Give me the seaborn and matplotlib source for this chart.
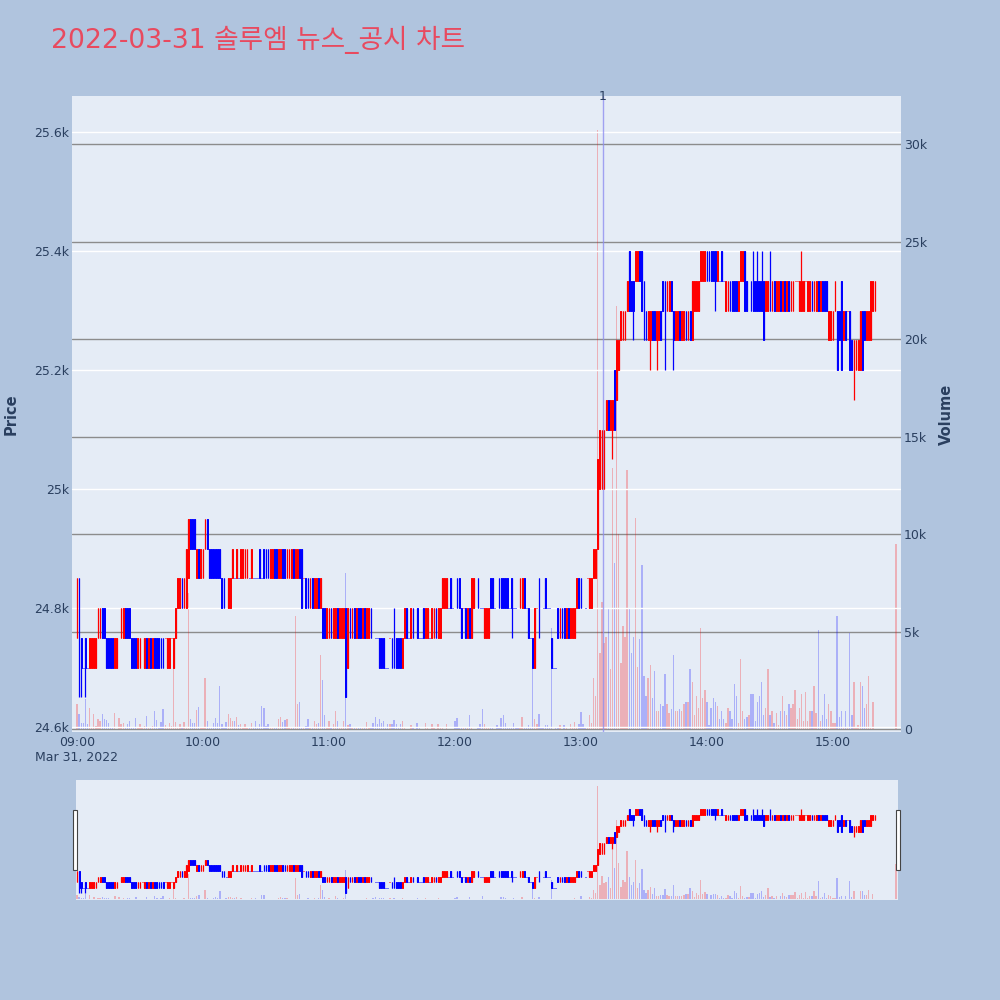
import numpy as np
import pandas as pd
import matplotlib
matplotlib.use("Agg")
import matplotlib.pyplot as plt
import matplotlib.transforms as mtransforms
from matplotlib.patches import Rectangle
import seaborn as sns

# ---------------- data ----------------
TITLE = "2022-03-31 솔루엠 뉴스_공시 차트"
price_ticks = [24600, 24800, 25000, 25200, 25400, 25600]
price_tick_labels = ["24.6k", "24.8k", "25k", "25.2k", "25.4k", "25.6k"]
volume_ticks = [0, 5000, 10000, 15000, 20000, 25000, 30000]
volume_tick_labels = ["0", "5k", "10k", "15k", "20k", "25k", "30k"]
time_ticks = [0, 60, 120, 180, 240, 300, 360]
time_tick_labels = ["09:00\nMar 31, 2022", "10:00", "11:00", "12:00", "13:00", "14:00", "15:00"]
news_minute = 250.5
news_label = "1"

# minutes after 09:00 (regular session 09:00-15:20, closing auction 15:30)
minutes = list(range(381)) + [390]

open_ = [
    24750, 24850, 24750, 24700, 24750, 24700, 24700, 24700, 24700, 24700,
    24750, 24750, 24800, 24800, 24750, 24750, 24750, 24750, 24700, 24700,
    24750, 24750, 24750, 24800, 24800, 24800, 24750, 24750, 24750, 24700,
    24700, 24750, 24700, 24750, 24700, 24750, 24700, 24750, 24750, 24750,
    24750, 24750, 24750, 24700, 24700, 24750, 24700, 24750, 24800, 24800,
    24850, 24800, 24800, 24850, 24950, 24950, 24950, 24850, 24900, 24850,
    24850, 24900, 24950, 24900, 24900, 24900, 24900, 24900, 24900, 24850,
    24850, 24800, 24800, 24800, 24850, 24850, 24850, 24850, 24850, 24850,
    24850, 24850, 24850, 24850, 24850, 24850, 24850, 24900, 24850, 24900,
    24900, 24900, 24850, 24850, 24900, 24900, 24850, 24850, 24900, 24900,
    24850, 24850, 24850, 24900, 24850, 24850, 24900, 24900, 24850, 24850,
    24850, 24800, 24850, 24800, 24800, 24850, 24800, 24800, 24800, 24750,
    24750, 24800, 24750, 24750, 24800, 24750, 24750, 24750, 24800, 24700,
    24800, 24750, 24800, 24750, 24800, 24800, 24750, 24800, 24750, 24750,
    24800, 24750, 24750, 24750, 24750, 24750, 24750, 24700, 24700, 24750,
    24750, 24750, 24750, 24750, 24750, 24700, 24750, 24800, 24750, 24750,
    24800, 24800, 24800, 24750, 24750, 24800, 24750, 24750, 24750, 24750,
    24750, 24800, 24750, 24750, 24800, 24800, 24800, 24800, 24850, 24800,
    24800, 24850, 24850, 24800, 24800, 24800, 24750, 24800, 24750, 24800,
    24800, 24850, 24800, 24800, 24750, 24750, 24750, 24850, 24850, 24800,
    24800, 24850, 24850, 24850, 24850, 24850, 24800, 24850, 24800, 24800,
    24800, 24800, 24800, 24850, 24800, 24800, 24750, 24750, 24700, 24800,
    24850, 24800, 24800, 24850, 24800, 24800, 24750, 24700, 24700, 24800,
    24750, 24800, 24800, 24750, 24800, 24750, 24750, 24750, 24800, 24850,
    24850, 24800, 24800, 24850, 24800, 24800, 24850, 24850, 24900, 25000,
    25000, 25000, 25100, 25150, 25100, 25100, 25200, 25150, 25200, 25250,
    25250, 25250, 25300, 25400, 25350, 25350, 25350, 25350, 25400, 25400,
    25350, 25300, 25250, 25250, 25300, 25300, 25250, 25250, 25300, 25350,
    25350, 25300, 25300, 25350, 25300, 25250, 25250, 25300, 25250, 25250,
    25300, 25250, 25300, 25250, 25300, 25300, 25300, 25350, 25350, 25350,
    25400, 25400, 25400, 25400, 25400, 25350, 25350, 25400, 25350, 25300,
    25300, 25350, 25350, 25350, 25350, 25300, 25350, 25350, 25400, 25350,
    25350, 25350, 25350, 25350, 25350, 25350, 25350, 25350, 25300, 25300,
    25350, 25300, 25350, 25300, 25300, 25350, 25300, 25350, 25300, 25350,
    25300, 25300, 25350, 25350, 25300, 25300, 25300, 25350, 25300, 25300,
    25350, 25300, 25300, 25350, 25300, 25350, 25350, 25350, 25250, 25250,
    25250, 25300, 25300, 25300, 25350, 25250, 25300, 25300, 25300, 25250,
    25200, 25200, 25200, 25200, 25300, 25300, 25250, 25250, 25250, 25300,
    25300, 25350,
]

close_ = [
    24850, 24700, 24700, 24700, 24700, 24700, 24750, 24750, 24750, 24750,
    24800, 24800, 24750, 24750, 24700, 24700, 24700, 24700, 24750, 24750,
    24750, 24800, 24800, 24750, 24750, 24750, 24700, 24700, 24700, 24750,
    24750, 24750, 24750, 24700, 24750, 24700, 24750, 24700, 24700, 24700,
    24700, 24700, 24750, 24750, 24750, 24750, 24750, 24800, 24850, 24850,
    24800, 24850, 24900, 24950, 24900, 24900, 24900, 24900, 24850, 24900,
    24900, 24950, 24900, 24850, 24850, 24850, 24850, 24850, 24850, 24800,
    24800, 24800, 24850, 24850, 24900, 24850, 24900, 24850, 24900, 24900,
    24900, 24900, 24850, 24900, 24850, 24850, 24850, 24850, 24850, 24850,
    24850, 24850, 24900, 24900, 24850, 24850, 24900, 24900, 24850, 24850,
    24900, 24900, 24900, 24850, 24900, 24900, 24850, 24800, 24850, 24800,
    24800, 24850, 24800, 24850, 24850, 24800, 24850, 24750, 24750, 24800,
    24800, 24750, 24800, 24800, 24750, 24800, 24800, 24800, 24650, 24800,
    24750, 24800, 24750, 24800, 24750, 24750, 24800, 24750, 24800, 24800,
    24750, 24750, 24750, 24750, 24700, 24700, 24700, 24700, 24700, 24750,
    24700, 24700, 24700, 24700, 24700, 24750, 24800, 24750, 24750, 24800,
    24750, 24800, 24750, 24750, 24750, 24750, 24800, 24800, 24750, 24800,
    24800, 24750, 24800, 24800, 24850, 24850, 24850, 24800, 24800, 24800,
    24800, 24800, 24800, 24750, 24800, 24750, 24800, 24750, 24850, 24850,
    24800, 24800, 24800, 24800, 24800, 24800, 24800, 24800, 24800, 24800,
    24800, 24800, 24800, 24800, 24800, 24800, 24800, 24800, 24800, 24800,
    24800, 24850, 24850, 24800, 24800, 24750, 24750, 24700, 24800, 24800,
    24800, 24800, 24800, 24800, 24800, 24800, 24700, 24700, 24700, 24750,
    24800, 24750, 24750, 24800, 24750, 24800, 24800, 24800, 24850, 24800,
    24800, 24800, 24800, 24850, 24850, 24850, 24900, 24900, 25050, 25100,
    25100, 25100, 25150, 25100, 25150, 25150, 25100, 25250, 25250, 25300,
    25300, 25300, 25350, 25300, 25300, 25300, 25400, 25400, 25350, 25300,
    25250, 25250, 25300, 25300, 25250, 25250, 25300, 25300, 25250, 25300,
    25250, 25350, 25350, 25300, 25250, 25300, 25300, 25250, 25300, 25300,
    25250, 25300, 25250, 25350, 25350, 25350, 25350, 25400, 25400, 25400,
    25350, 25350, 25350, 25350, 25350, 25400, 25350, 25350, 25350, 25350,
    25350, 25300, 25300, 25300, 25300, 25350, 25400, 25400, 25300, 25300,
    25350, 25300, 25300, 25300, 25300, 25300, 25300, 25250, 25350, 25350,
    25300, 25350, 25300, 25350, 25350, 25300, 25350, 25300, 25350, 25300,
    25350, 25350, 25350, 25350, 25350, 25350, 25350, 25350, 25350, 25350,
    25300, 25350, 25350, 25300, 25350, 25300, 25300, 25300, 25300, 25300,
    25300, 25350, 25200, 25250, 25200, 25300, 25250, 25300, 25200, 25200,
    25250, 25250, 25250, 25300, 25200, 25250, 25300, 25300, 25350, 25350,
    25350, 25350,
]

# wick extremes that go beyond the candle body (minute -> price)
wick_high = {151: 24800, 322: 25400, 324: 25400, 326: 25400, 330: 25400, 345: 25400}
wick_low = {1: 24650, 2: 24650, 4: 24650, 207: 24750, 220: 24750, 255: 25050,
            265: 25250, 273: 25200, 276: 25200, 280: 25200, 284: 25200,
            304: 25300, 370: 25150}

# traded volume per minute, thousands of shares
volume_k = [
    1.3, 0.75, 0.32, 0.32, 1.55, 0.24, 1.1, 0.03, 0.75, 0.15,
    0.5, 0.41, 0.75, 0.5, 0.45, 0.32, 0.05, 0.05, 0.8, 0.0,
    0.55, 0.24, 0.32, 0.1, 0.28, 0.41, 0.05, 0.05, 0.55, 0.05,
    0.24, 0.1, 0.15, 0.65, 0.05, 0.05, 0.15, 0.9, 0.45, 0.1,
    0.35, 1.0, 0.2, 0.05, 0.3, 0.15, 3.7, 0.35, 0.1, 0.24,
    0.05, 0.38, 0.05, 7.0, 0.5, 0.3, 0.32, 0.95, 1.15, 0.05,
    0.05, 2.6, 0.4, 0.05, 0.03, 0.32, 0.55, 0.3, 2.2, 0.24,
    0.05, 0.35, 0.75, 0.55, 0.41, 0.41, 0.62, 0.2, 0.28, 0.05,
    0.24, 0.05, 0.05, 0.3, 0.05, 0.41, 0.03, 0.24, 1.2, 1.1,
    0.15, 0.24, 0.1, 0.05, 0.05, 0.05, 0.5, 0.6, 0.38, 0.45,
    0.5, 0.05, 0.05, 0.05, 5.8, 1.3, 1.4, 0.05, 0.05, 0.15,
    0.5, 0.05, 0.05, 0.41, 0.24, 0.32, 3.8, 2.5, 0.7, 0.05,
    0.41, 0.03, 0.24, 0.92, 0.41, 0.05, 0.05, 0.41, 8.0, 0.2,
    0.24, 0.05, 0.05, 0.05, 0.05, 0.05, 0.05, 0.05, 0.38, 0.05,
    0.05, 0.3, 0.6, 0.24, 0.5, 0.3, 0.41, 0.05, 0.24, 0.28,
    0.24, 0.45, 0.24, 0.03, 0.24, 0.41, 0.05, 0.0, 0.0, 0.2,
    0.05, 0.0, 0.3, 0.05, 0.0, 0.0, 0.3, 0.05, 0.0, 0.24,
    0.05, 0.0, 0.28, 0.05, 0.05, 0.0, 0.24, 0.0, 0.0, 0.0,
    0.41, 0.58, 0.05, 0.05, 0.05, 0.05, 0.05, 0.7, 0.05, 0.0,
    0.0, 0.03, 0.24, 1.0, 0.24, 0.05, 0.05, 0.05, 0.05, 0.0,
    0.2, 0.05, 0.58, 0.7, 0.32, 0.05, 0.05, 0.05, 0.32, 0.05,
    0.05, 0.05, 0.6, 0.05, 0.05, 0.2, 0.1, 3.5, 0.5, 0.24,
    0.75, 0.05, 0.05, 0.2, 0.2, 0.05, 5.2, 0.0, 0.05, 0.05,
    0.2, 0.0, 0.2, 0.05, 0.0, 0.24, 0.05, 0.35, 0.05, 0.24,
    0.85, 0.24, 0.05, 0.05, 0.7, 0.3, 2.6, 1.7, 30.7, 3.9,
    6.5, 4.4, 4.7, 6.2, 3.1, 13.4, 8.5, 21.7, 10.0, 3.4,
    5.3, 4.7, 13.3, 6.2, 3.9, 4.7, 10.8, 3.2, 4.6, 8.4,
    2.7, 1.7, 2.6, 3.3, 1.6, 3.0, 0.9, 0.9, 1.3, 1.2,
    2.8, 1.3, 0.8, 1.0, 3.8, 0.9, 0.9, 1.0, 0.9, 1.3,
    1.4, 1.4, 3.1, 2.4, 0.7, 1.7, 1.1, 5.2, 1.6, 2.0,
    1.4, 0.2, 1.1, 1.6, 1.4, 1.2, 0.5, 0.9, 0.5, 0.3,
    1.1, 0.9, 0.5, 2.3, 1.7, 0.3, 3.6, 0.9, 0.5, 0.6,
    0.7, 1.8, 1.8, 0.4, 1.4, 1.7, 2.4, 0.7, 1.1, 3.1,
    0.7, 0.9, 0.3, 0.8, 0.2, 0.9, 1.7, 0.9, 0.7, 1.3,
    1.1, 1.3, 2.0, 0.5, 1.1, 1.8, 0.4, 1.9, 0.4, 0.9,
    0.9, 2.2, 0.8, 5.1, 0.4, 0.7, 1.8, 0.5, 1.3, 0.9,
    0.3, 0.3, 5.8, 0.6, 0.9, 0.1, 0.9, 0.1, 4.9, 0.7,
    2.4, 0.1, 0.2, 2.4, 2.2, 1.1, 1.3, 2.7, 0.1, 1.4,
    0.0, 9.5,
]

# ---------------- table ----------------
df = pd.DataFrame({"minute": minutes, "open": open_, "close": close_,
                   "volume": np.array(volume_k) * 1000})
df["high"] = [max(o, c, wick_high.get(m, 0)) for m, o, c in zip(df.minute, df.open, df.close)]
df["low"] = [min(o, c, wick_low.get(m, 10**9)) for m, o, c in zip(df.minute, df.open, df.close)]

# candle direction (a doji takes its direction from the previous close, as plotly does)
direction = []
prev_close, prev_up = None, True
for o, c in zip(df.open, df.close):
    if c > o:
        up = True
    elif c < o:
        up = False
    elif prev_close is None or c == prev_close:
        up = prev_up
    else:
        up = c > prev_close
    direction.append(up)
    prev_close, prev_up = c, up
df["up"] = direction

RED = "#FF0000"
BLUE = "#0000FF"
PAPER = "#B0C4DE"
PLOT_BG = "#E5ECF6"
FONT_C = "#2a3f5f"

sns.set_theme(style="white", rc={"figure.facecolor": PAPER, "axes.facecolor": PLOT_BG})
plt.rcParams["font.family"] = ["DejaVu Sans", "Noto Sans CJK KR"]

fig = plt.figure(figsize=(10, 10), dpi=100)
fig.patch.set_facecolor(PAPER)

XLIM = (-2.38, 392.4)
PRICE_LIM = (24591.6, 25660.6)
VOL_LIM = (-154, 32465)


def draw_layer(ax_p, ax_v, body_w, body_lw, wick_lw, vol_w):
    colors = np.where(df.up, RED, BLUE)
    ax_v.bar(df.minute, df.volume, width=vol_w, color=colors, alpha=0.25, linewidth=0, zorder=2)
    ax_p.vlines(df.minute, df.low, df.high, colors=colors, linewidth=wick_lw, zorder=3)
    lo = np.minimum(df.open, df.close)
    hi = np.maximum(df.open, df.close)
    ax_p.bar(df.minute, hi - lo, bottom=lo, width=body_w, color=colors,
             edgecolor=colors, linewidth=body_lw, zorder=4)


# ---------------- main chart ----------------
ax = fig.add_axes([0.072, 0.268, 0.829, 0.636])
ax_vol = ax.twinx()
ax.set_zorder(ax_vol.get_zorder() + 1)
ax.patch.set_visible(False)
ax_vol.patch.set_visible(True)
ax_vol.patch.set_facecolor(PLOT_BG)

draw_layer(ax, ax_vol, body_w=0.38, body_lw=0.72, wick_lw=0.9, vol_w=0.65)

ax.set_xlim(*XLIM)
ax.set_ylim(*PRICE_LIM)
ax_vol.set_ylim(*VOL_LIM)

ax.set_yticks(price_ticks)
ax.set_yticklabels(price_tick_labels)
ax_vol.set_yticks(volume_ticks)
ax_vol.set_yticklabels(volume_tick_labels)
ax.set_xticks(time_ticks)
ax.set_xticklabels(time_tick_labels)

ax.grid(axis="y", color="white", linewidth=1.0, zorder=1)
ax.grid(axis="x", visible=False)
ax_vol.grid(axis="y", color="#8c8c8c", linewidth=1.0)
ax_vol.grid(axis="x", visible=False)
ax.set_axisbelow(True)
ax_vol.set_axisbelow(True)

for a in (ax, ax_vol):
    for s in a.spines.values():
        s.set_visible(False)
ax.tick_params(axis="y", length=0, pad=2, labelsize=9, colors=FONT_C)
ax_vol.tick_params(axis="y", length=0, pad=2, labelsize=9, colors=FONT_C)
ax.tick_params(axis="x", length=0, pad=3, labelsize=9, colors=FONT_C)
ax_vol.tick_params(axis="x", length=0)

# news marker
ax.axvline(news_minute, color="#8f8ff0", linewidth=1.0, alpha=0.8, zorder=2)
trans = mtransforms.blended_transform_factory(ax.transData, ax.transAxes)
ax.text(news_minute, 1.0, news_label, transform=trans, ha="center", va="center",
        fontsize=9, color=FONT_C, zorder=6)

fig.text(0.011, 0.586, "Price", rotation=90, ha="center", va="center",
         fontsize=10.5, fontweight="bold", color=FONT_C)
fig.text(0.946, 0.586, "Volume", rotation=90, ha="center", va="center",
         fontsize=10.5, fontweight="bold", color=FONT_C)

fig.text(0.051, 0.960, TITLE, ha="left", va="center", fontsize=19.2, color="#E84A5F")

# ---------------- range slider ----------------
axs = fig.add_axes([0.076, 0.100, 0.822, 0.120])
axs_vol = axs.twinx()
axs.set_zorder(axs_vol.get_zorder() + 1)
axs.patch.set_visible(False)
axs_vol.patch.set_visible(True)
axs_vol.patch.set_facecolor(PLOT_BG)
draw_layer(axs, axs_vol, body_w=0.38, body_lw=0.72, wick_lw=0.9, vol_w=0.65)
axs.set_xlim(-0.5, 391.0)
axs.set_ylim(*PRICE_LIM)
axs_vol.set_ylim(*VOL_LIM)
for a in (axs, axs_vol):
    a.set_xticks([])
    a.set_yticks([])
    a.grid(False)
    for s in a.spines.values():
        s.set_visible(False)

for x0 in (0.073, 0.896):
    fig.patches.append(Rectangle((x0, 0.130), 0.004, 0.060, transform=fig.transFigure,
                                 facecolor="white", edgecolor="#444444", linewidth=0.8, zorder=10))

fig.savefig("out.png", dpi=100, facecolor=PAPER)
